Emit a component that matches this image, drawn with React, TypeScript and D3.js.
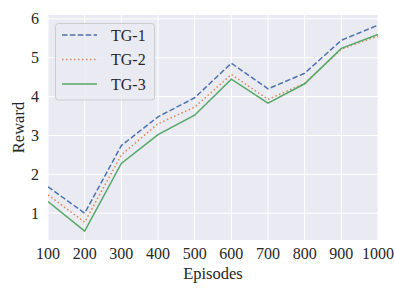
import React, { useRef, useEffect } from "react";
import * as d3 from "d3";

const episodes = [100, 200, 300, 400, 500, 600, 700, 800, 900, 1000];
const tg1 = [1.68, 1.0, 2.74, 3.48, 3.97, 4.86, 4.2, 4.6, 5.45, 5.84];
const tg2 = [1.47, 0.77, 2.5, 3.3, 3.73, 4.57, 3.93, 4.34, 5.22, 5.56];
const tg3 = [1.3, 0.54, 2.28, 3.02, 3.52, 4.45, 3.83, 4.33, 5.24, 5.6];
const yTicks = [1, 2, 3, 4, 5, 6];

const series = [
  { name: "TG-1", values: tg1, color: "#4C72B0", dash: "5.5,2.4" },
  { name: "TG-2", values: tg2, color: "#DD8452", dash: "1.5,2.5" },
  { name: "TG-3", values: tg3, color: "#55A868", dash: null },
];

function App() {
  const svgRef = useRef(null);
  const width = 394;
  const height = 296;

  useEffect(() => {
    const svg = d3.select(svgRef.current);
    svg.selectAll("*").remove();
    const font = "'Liberation Serif', 'Times New Roman', serif";

    const x = d3.scaleLinear().domain([100, 1000]).range([48, 378]);
    const y = d3.scaleLinear().domain([0.31, 6.1]).range([240, 15]);

    // axes background
    svg
      .append("rect")
      .attr("x", 48)
      .attr("y", 15)
      .attr("width", 330)
      .attr("height", 225)
      .attr("fill", "#EAEAF2");

    // grid
    svg
      .append("g")
      .selectAll("line")
      .data(episodes)
      .join("line")
      .attr("x1", (d) => x(d))
      .attr("x2", (d) => x(d))
      .attr("y1", 15)
      .attr("y2", 240)
      .attr("stroke", "#fff")
      .attr("stroke-width", 1);
    svg
      .append("g")
      .selectAll("line")
      .data(yTicks)
      .join("line")
      .attr("x1", 48)
      .attr("x2", 378)
      .attr("y1", (d) => y(d))
      .attr("y2", (d) => y(d))
      .attr("stroke", "#fff")
      .attr("stroke-width", 1);

    // tick labels
    svg
      .append("g")
      .selectAll("text")
      .data(episodes)
      .join("text")
      .attr("x", (d) => x(d))
      .attr("y", 259)
      .attr("text-anchor", "middle")
      .attr("font-family", font)
      .attr("font-size", 16)
      .attr("fill", "#262626")
      .text((d) => d);
    svg
      .append("g")
      .selectAll("text")
      .data(yTicks)
      .join("text")
      .attr("x", 39)
      .attr("y", (d) => y(d))
      .attr("dy", "0.35em")
      .attr("text-anchor", "end")
      .attr("font-family", font)
      .attr("font-size", 16)
      .attr("fill", "#262626")
      .text((d) => d);

    // axis labels
    svg
      .append("text")
      .attr("x", 213)
      .attr("y", 279)
      .attr("text-anchor", "middle")
      .attr("font-family", font)
      .attr("font-size", 16.5)
      .attr("fill", "#262626")
      .text("Episodes");
    svg
      .append("text")
      .attr("transform", "translate(24,127.5) rotate(-90)")
      .attr("text-anchor", "middle")
      .attr("font-family", font)
      .attr("font-size", 16.5)
      .attr("fill", "#262626")
      .text("Reward");

    const line = d3
      .line<number>()
      .x((d, i) => x(episodes[i]))
      .y((d) => y(d));

    const clip = svg
      .append("g")
      .attr("clip-path", "url(#plotclip)");
    svg
      .append("clipPath")
      .attr("id", "plotclip")
      .append("rect")
      .attr("x", 48)
      .attr("y", 15)
      .attr("width", 330)
      .attr("height", 225);

    series.forEach((s) => {
      clip
        .append("path")
        .datum(s.values)
        .attr("fill", "none")
        .attr("stroke", s.color)
        .attr("stroke-width", 1.5)
        .attr("stroke-dasharray", s.dash)
        .attr("d", line);
    });

    // legend
    const lg = svg.append("g");
    lg.append("rect")
      .attr("x", 55.5)
      .attr("y", 23.5)
      .attr("width", 99)
      .attr("height", 76.5)
      .attr("rx", 3)
      .attr("fill", "#EAEAF2")
      .attr("fill-opacity", 0.8)
      .attr("stroke", "#CCCCCC")
      .attr("stroke-width", 1);
    series.forEach((s, i) => {
      const ly = 35 + i * 24.5;
      lg.append("line")
        .attr("x1", 62)
        .attr("x2", 97)
        .attr("y1", ly)
        .attr("y2", ly)
        .attr("stroke", s.color)
        .attr("stroke-width", 1.5)
        .attr("stroke-dasharray", s.dash);
      lg.append("text")
        .attr("x", 111)
        .attr("y", ly)
        .attr("dy", "0.35em")
        .attr("font-family", font)
        .attr("font-size", 16)
        .attr("fill", "#262626")
        .text(s.name);
    });
  }, []);

  return (
    <svg
      ref={svgRef}
      width={width}
      height={height}
      style={{ position: "absolute", left: 0, top: 0, background: "#fff" }}
    ></svg>
  );
}

export default App;
